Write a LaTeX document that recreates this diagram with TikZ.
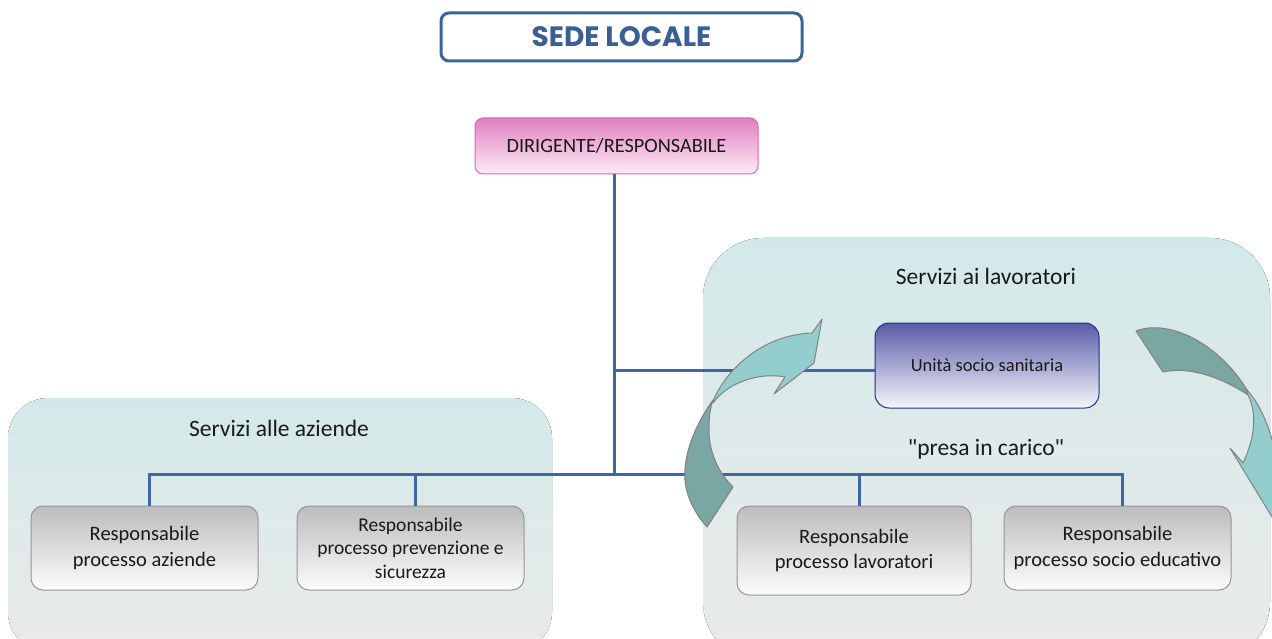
\documentclass[tikz,border=0pt]{standalone}
\usepackage{fontspec}
\setmainfont{Carlito}
\newfontfamily\carlitoplain{Carlito}
\newfontfamily\titlefont{Poppins}
\definecolor{linecol}{RGB}{62,102,160}
\definecolor{titleborder}{RGB}{61,100,153}
\definecolor{titletext}{RGB}{59,95,148}
\definecolor{dirtop}{RGB}{224,128,191}
\definecolor{dirbot}{RGB}{252,236,246}
\definecolor{dirborder}{RGB}{228,99,181}
\definecolor{usatop}{RGB}{88,92,167}
\definecolor{usabot}{RGB}{246,246,252}
\definecolor{usaborder}{RGB}{43,43,140}
\definecolor{graytop}{RGB}{188,188,188}
\definecolor{graybot}{RGB}{252,252,252}
\definecolor{grayborder}{RGB}{150,150,150}
\definecolor{paneltop}{RGB}{211,233,233}
\definecolor{panelbot}{RGB}{234,234,234}
\definecolor{arrlightcol}{RGB}{148,205,205}
\definecolor{arrdarkcol}{RGB}{122,166,163}
\definecolor{arrborder}{RGB}{130,130,130}
\definecolor{txt}{RGB}{25,25,25}
\tikzset{
  panel/.style={top color=paneltop, bottom color=panelbot, draw=none},
  paneltext/.style={font=\fontsize{23.5}{28}\selectfont, text=txt, inner sep=0pt},
  titlebox/.style={draw=titleborder, line width=3pt, rounded corners=8pt, fill=white,
    minimum width=361pt, minimum height=48pt,
    font=\titlefont\bfseries\fontsize{28}{32}\selectfont, text=titletext},
  dirbox/.style={draw=dirborder, line width=1pt, rounded corners=8pt, top color=dirtop, bottom color=dirbot,
    minimum width=283pt, minimum height=56pt, font=\fontsize{20.3}{24}\selectfont, text=txt},
  usabox/.style={draw=usaborder, line width=1pt, rounded corners=14pt, top color=usatop, bottom color=usabot,
    minimum width=224pt, minimum height=85pt, font=\fontsize{18.5}{22}\selectfont, text=txt},
  resp/.style={draw=grayborder, line width=1pt, rounded corners=12pt, top color=graytop, bottom color=graybot,
    minimum width=227pt, minimum height=84pt, align=center, inner sep=2pt,
    font=\fontsize{20.5}{25.5}\selectfont, text=txt},
  conn/.style={draw=linecol, line width=3pt},
  arrlight/.style={fill=arrlightcol, draw=arrborder, line width=1pt, line join=round},
  arrdark/.style={fill=arrdarkcol, draw=arrborder, line width=1pt, line join=round}
}
\begin{document}
\begin{tikzpicture}[x=1pt,y=-1pt]
\useasboundingbox (0,0) rectangle (1272,639);
\clip (0,0) rectangle (1272,639);
% panels
\fill[panel, rounded corners=40pt] (8,398) rectangle (552,652);
\fill[panel, rounded corners=60pt] (703,238) rectangle (1270,662);
\node[paneltext] (lblaz) at (279,428) {Servizi alle aziende};
\node[paneltext] (lbllav) at (986,276) {Servizi ai lavoratori};
\node[paneltext, font=\carlitoplain\fontsize{23.5}{28}\selectfont] (lblpresa) at (986,449) {"presa in carico"};
% nodes
\node[titlebox] (sede) at (621.5,37) {SEDE LOCALE};
\node[dirbox] (dir) at (616.5,146) {DIRIGENTE/RESPONSABILE};
\node[usabox] (usa) at (987,365.5) {Unità socio sanitaria};
\node[resp] (b1) at (144.5,548) {Responsabile\\processo aziende};
\node[resp, font=\fontsize{19.5}{23.5}\selectfont] (b2) at (410.5,548) {Responsabile\\processo prevenzione e\\sicurezza};
\node[resp, minimum width=234pt, minimum height=89pt] (b3) at (854,550.5) {Responsabile\\processo lavoratori};
\node[resp] (b4) at (1117.5,548) {Responsabile\\processo socio educativo};
% connectors
\coordinate (bus) at (614,474);
\coordinate (junc) at (614,370);
\path[conn] (dir.south -| bus) -- (bus);
\path[conn] (junc) -- (usa.west |- junc);
\path[conn] ([xshift=5pt]b1.north) |- (bus) -| ([xshift=5pt]b4.north);
\path[conn] ([xshift=5pt]b2.north) -- ([xshift=5pt]b2.north |- bus);
\path[conn] ([xshift=5pt]b3.north) -- ([xshift=5pt]b3.north |- bus);
% left curved arrow
\filldraw[arrdark] (713,400) .. controls (695,425) and (683,455) .. (685,480)
  .. controls (686,497) and (696,515) .. (707,527) -- (733,487)
  .. controls (718,472) and (709,452) .. (709,430)
  .. controls (709,418) and (710,410) .. (712,403) -- cycle;
\filldraw[arrlight] (713,401) .. controls (725,372) and (760,335) .. (812,333)
  -- (822,319) -- (814,363) -- (774,394) -- (785,377)
  .. controls (760,372) and (728,382) .. (713,403) -- cycle;
% right curved arrow
\filldraw[arrdark] (1136,331) .. controls (1170,318) and (1220,345) .. (1247,390)
  -- (1248,395) .. controls (1230,383) and (1195,365) .. (1163,372) -- cycle;
\filldraw[arrlight] (1246,389) .. controls (1262,405) and (1275,440) .. (1278,470)
  -- (1295,462) -- (1283,535) -- (1230,448) -- (1243,463)
  .. controls (1254,440) and (1258,415) .. (1248,395) -- cycle;
\end{tikzpicture}
\end{document}
